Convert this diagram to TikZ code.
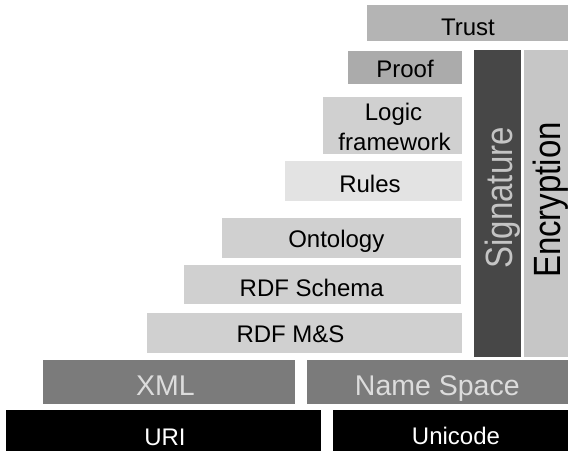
\documentclass[tikz,border=0pt]{standalone}
\usepackage{fontspec}
\setmainfont{Liberation Sans}
\definecolor{trustgray}{HTML}{B4B4B4}
\definecolor{proofgray}{HTML}{ABABAB}
\definecolor{logicgray}{HTML}{D0D0D0}
\definecolor{rulesgray}{HTML}{E3E3E3}
\definecolor{rdfgray}{HTML}{D0D0D0}
\definecolor{xmlgray}{HTML}{7B7B7B}
\definecolor{xmltext}{HTML}{DCDCDC}
\definecolor{siggray}{HTML}{474747}
\definecolor{sigtext}{HTML}{C4C4C4}
\definecolor{encgray}{HTML}{C6C6C6}
\begin{document}
\begin{tikzpicture}[x=1pt,y=-1pt,
  layer/.style={draw=none, inner sep=0pt, outer sep=0pt, anchor=north west},
  lbl/.style={anchor=base, inner sep=0pt, outer sep=0pt, font=\fontsize{24}{29}\selectfont},
  biglbl/.style={lbl, font=\fontsize{28.5}{34}\selectfont},
  sidelbl/.style={anchor=base, inner sep=0pt, outer sep=0pt, rotate=90, font=\fontsize{33}{40}\selectfont}]
  \fill[white] (0,0) rectangle (568,451);
  \useasboundingbox (0,0) rectangle (568,451);

  % upper stack
  \node[layer, fill=trustgray, minimum width=201pt, minimum height=35.7pt] (trust) at (367,5) {};
  \node[lbl] (trusttxt) at (468,35) {Trust};

  \node[layer, fill=proofgray, minimum width=113.7pt, minimum height=32.7pt] (proof) at (348,51) {};
  \node[lbl] (prooftxt) at (405,77.3) {Proof};

  \node[layer, fill=logicgray, minimum width=138.7pt, minimum height=56.7pt] (logic) at (323,97) {};
  \node[lbl] (logictxta) at (393.5,120.7) {Logic};
  \node[lbl] (logictxtb) at (394.5,150.5) {framework};

  \node[layer, fill=rulesgray, minimum width=176.7pt, minimum height=39.7pt] (rules) at (285,161) {};
  \node[lbl] (rulestxt) at (370,192.3) {Rules};

  \node[layer, fill=rdfgray, minimum width=238.7pt, minimum height=39.7pt] (onto) at (222,218) {};
  \node[lbl] (ontotxt) at (336.3,247.3) {Ontology};

  \node[layer, fill=rdfgray, minimum width=276.7pt, minimum height=38.5pt] (schema) at (184,265) {};
  \node[lbl] (schematxt) at (311.7,296) {RDF Schema};

  \node[layer, fill=rdfgray, minimum width=315pt, minimum height=39.4pt] (rdfms) at (146.7,313.3) {};
  \node[lbl] (rdfmstxt) at (290.5,342.7) {RDF M\&S};

  % vertical bars
  \node[layer, fill=siggray, minimum width=46.4pt, minimum height=307.3pt] (sig) at (474.3,50) {};
  \node[sidelbl, text=sigtext] (sigtxt) at (512.5,197.8) {\scalebox{1}[1.15]{Signature}};

  \node[layer, fill=encgray, minimum width=43.7pt, minimum height=307.3pt] (enc) at (524.3,50) {};
  \node[sidelbl] (enctxt) at (560.5,200) {\scalebox{1}[1.15]{Encryption}};

  % base layers
  \node[layer, fill=xmlgray, minimum width=252.3pt, minimum height=44.3pt] (xml) at (42.7,360) {};
  \node[biglbl, text=xmltext] (xmltxt) at (165.5,395) {XML};

  \node[layer, fill=xmlgray, minimum width=261pt, minimum height=44.3pt] (ns) at (307,360) {};
  \node[biglbl, text=xmltext] (nstxt) at (437.3,395) {Name Space};

  \node[layer, fill=black, minimum width=315.3pt, minimum height=41pt] (uri) at (5.7,410) {};
  \node[lbl, text=white] (uritxt) at (165,445) {URI};

  \node[layer, fill=black, minimum width=235.3pt, minimum height=41pt] (uni) at (332.7,410) {};
  \node[lbl, text=white] (unitxt) at (456,444.5) {Unicode};
\end{tikzpicture}
\end{document}
